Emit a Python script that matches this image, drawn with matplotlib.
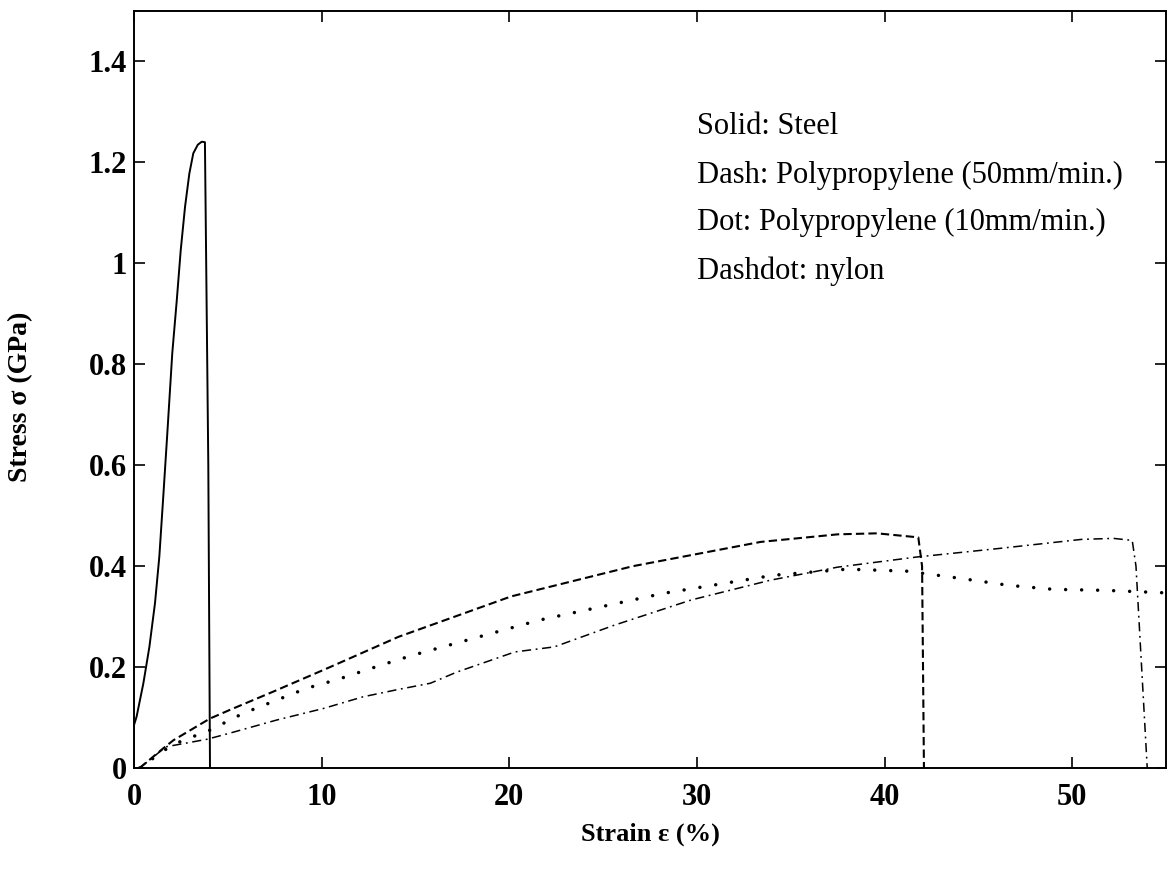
import matplotlib
matplotlib.use("Agg")
import matplotlib.pyplot as plt

# ---- data ----
steel_x = [0, 0, 0.14, 0.50, 0.82, 1.12, 1.35, 1.56, 1.77, 2.04, 2.28, 2.49, 2.72, 2.95,
           3.16, 3.40, 3.61, 3.78, 3.96, 4.05]
steel_y = [0, 0.085, 0.102, 0.168, 0.240, 0.327, 0.419, 0.538, 0.660, 0.822, 0.927, 1.026,
           1.112, 1.178, 1.218, 1.235, 1.241, 1.240, 0.60, 0.0]

pp50_x = [0.3, 1.56, 2.1, 4.05, 5.1, 7.4, 10.45, 14.1, 20.1, 26.6, 33.4, 37.5, 39.6, 41.8, 42.0, 42.1]
pp50_y = [0.0, 0.039, 0.055, 0.098, 0.115, 0.151, 0.200, 0.260, 0.340, 0.400, 0.448, 0.463, 0.465,
          0.457, 0.40, 0.0]

pp10_x = [0.3, 1.65, 2.45, 3.34, 4.05, 5.8, 7.5, 9.2, 10.9, 12.6, 14.2, 15.1, 21.6, 28.2,
          34.1, 38.0, 41.2, 44.0, 46.6, 49.0, 51.8, 55.0]
pp10_y = [0.0, 0.036, 0.052, 0.065, 0.075, 0.108, 0.133, 0.158, 0.176, 0.197, 0.216, 0.226,
          0.293, 0.346, 0.382, 0.394, 0.390, 0.376, 0.362, 0.354, 0.352, 0.347]

nylon_x = [0.3, 1.7, 3.9, 5.1, 7.6, 10.1, 12.2, 14.0, 15.8, 17.2, 20.3, 22.4, 25.6, 29.7,
           33.9, 37.5, 41.7, 46.1, 50.5, 52.2, 53.2, 53.4, 54.0]
nylon_y = [0.0, 0.042, 0.057, 0.069, 0.095, 0.118, 0.141, 0.155, 0.168, 0.190, 0.230, 0.240,
           0.283, 0.333, 0.372, 0.398, 0.418, 0.435, 0.453, 0.455, 0.451, 0.40, 0.0]

x_ticks = [0, 10, 20, 30, 40, 50]
y_ticks = [0, 0.2, 0.4, 0.6, 0.8, 1.0, 1.2, 1.4]
y_tick_labels = ["0", "0.2", "0.4", "0.6", "0.8", "1", "1.2", "1.4"]
notes = ["Solid: Steel", "Dash: Polypropylene (50mm/min.)",
         "Dot: Polypropylene (10mm/min.)", "Dashdot: nylon"]

plt.rcParams['font.family'] = ['Liberation Serif', 'DejaVu Serif']

fig = plt.figure(figsize=(11.68, 8.71), dpi=100)
ax = fig.add_axes([134/1168, (871-768)/871, (1166-134)/1168, (768-11)/871])

ax.plot(steel_x, steel_y, color='black', lw=1.4, linestyle='-')
ax.plot(pp50_x, pp50_y, color='black', lw=1.5, linestyle=(0, (4, 2)))
ax.plot(pp10_x, pp10_y, color='black', lw=2.5, linestyle=(0, (0.01, 4.6)),
        dash_capstyle='round')
ax.plot(nylon_x, nylon_y, color='black', lw=1.1, linestyle=(0, (6, 3, 1.2, 3)))

ax.set_xlim(0, 55)
ax.set_ylim(0, 1.5)
ax.set_xticks(x_ticks)
ax.set_yticks(y_ticks)
ax.set_yticklabels(y_tick_labels)
ax.tick_params(direction='in', top=True, right=True, length=8, width=1.2,
               labelsize=22)
ax.tick_params(axis='x', pad=11)
ax.tick_params(axis='y', pad=5)
for lab in ax.get_xticklabels() + ax.get_yticklabels():
    lab.set_fontweight('bold')
for sp in ax.spines.values():
    sp.set_linewidth(1.4)

ax.set_xlabel("Strain ε (%)", fontsize=19, fontweight='bold')
ax.set_ylabel("Stress σ (GPa)", fontsize=20, fontweight='bold')
ax.xaxis.set_label_coords(0.5, -0.072)
ax.yaxis.set_label_coords(-0.098, 0.49)

note_y = [1.272, 1.175, 1.080, 0.985]
for t, yy in zip(notes, note_y):
    ax.text(30.0, yy, t, fontsize=22, ha='left', va='center')

fig.savefig("out.png", dpi=100)
